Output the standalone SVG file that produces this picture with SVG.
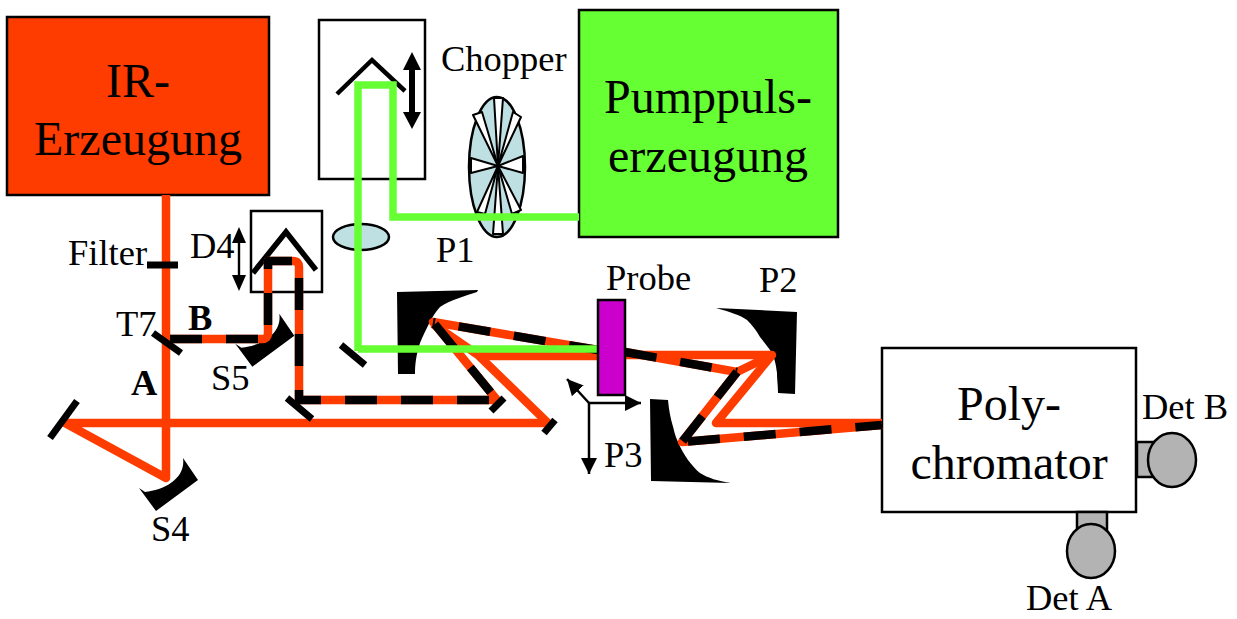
<svg xmlns="http://www.w3.org/2000/svg" width="1237" height="619" viewBox="0 0 1237 619">
<defs>
<style>
text{font-family:"Liberation Serif","Times New Roman",serif;fill:#000}
.big{font-size:48px;text-anchor:middle}
.lab{font-size:36.5px}
.det-l{font-size:36.5px}
.bold{font-weight:bold}
.box{stroke:#000;stroke-width:2.5}
.red{fill:none;stroke:#ff3c00;stroke-width:8.5;stroke-linejoin:round}
.blk{fill:none;stroke:#000;stroke-width:8.5;stroke-dasharray:32 24;stroke-linejoin:round}
.grn{fill:none;stroke:#66ff33;stroke-width:7.5;stroke-linejoin:miter}
.tick{stroke:#000;stroke-width:7;fill:none}
.retro{fill:none;stroke:#000;stroke-linejoin:miter}
.thin{stroke:#000;stroke-width:2.5;fill:none}
.mir{fill:#000}
.det{fill:#b3b3b3;stroke:#000;stroke-width:2.5}
.sec{fill:#fff;stroke:#000;stroke-width:2;stroke-linejoin:round}
</style>
<marker id="ah" viewBox="0 0 16 16" refX="16" refY="8" markerWidth="16" markerHeight="16" markerUnits="userSpaceOnUse" orient="auto"><path d="M0 0L16 8L0 16Z" fill="#000"/></marker>
<path id="smir" d="M139 488L145 492C165 490 186 478 183 458L198 480L156 511Z"/>
</defs>
<rect width="1237" height="619" fill="#fff"/>

<g id="ir-source"><rect class="box" x="7" y="17" width="262" height="178" fill="#ff3c00"/>
<text class="big" x="138" y="97">IR-</text><text class="big" x="138" y="155">Erzeugung</text></g>
<g id="pump-source"><rect class="box" x="579" y="10" width="259" height="227" fill="#66ff33"/>
<text class="big" x="708" y="113">Pumppuls-</text><text class="big" x="708" y="172">erzeugung</text></g>
<g id="polychromator"><rect class="box" x="882" y="348" width="254" height="164" fill="#fff"/>
<text class="big" x="1009" y="420">Poly-</text><text class="big" x="1009" y="479">chromator</text></g>
<g id="det-b"><rect class="det" x="1137" y="442" width="26" height="35"/><ellipse class="det" cx="1172" cy="460" rx="24" ry="27"/><text class="det-l" x="1142" y="419">Det B</text></g>
<g id="det-a"><rect class="det" x="1077" y="512" width="30" height="26"/><ellipse class="det" cx="1091" cy="551" rx="24" ry="27"/><text class="det-l" x="1026" y="610">Det A</text></g>

<g id="delay-pump"><rect class="box" x="319" y="20" width="106" height="159" fill="#fff"/>
<path class="retro" stroke-width="4.5" d="M337 94L372 60L405 91"/>
<path d="M412 52L421 70H415V112H421L412 129L403 112H409V70H403Z" fill="#000"/></g>
<g id="delay-d4"><rect class="box" x="251" y="211" width="71" height="81" fill="#fff"/>
<path class="retro" stroke-width="5.5" d="M253 273L286 232L316 270"/>
<path d="M239 227L246 243H240.2V275H246L239 291L232 275H237.8V243H232Z" fill="#000"/><text class="lab" x="190" y="258">D4</text></g>
<g id="chopper"><ellipse cx="497" cy="167" rx="28" ry="70" fill="#bfe0e3" stroke="#000" stroke-width="2.5"/>
<path class="sec" d="M494 98H503L498 166Z"/><path class="sec" d="M473 115L482 112L498 166Z"/><path class="sec" d="M521 117L513 112L498 166Z"/>
<path class="sec" d="M471 158V173L498 166Z"/><path class="sec" d="M523 156V173L498 166Z"/>
<path class="sec" d="M493 234H503L498 166Z"/><path class="sec" d="M477 212L485 214L498 166Z"/><path class="sec" d="M521 210L512 214L498 166Z"/>
<text class="lab" x="441" y="71">Chopper</text></g>
<g id="lens"><ellipse cx="361" cy="237" rx="28" ry="13" fill="#bfe0e3" stroke="#000" stroke-width="2.5"/></g>
<g id="filter"><text class="lab" x="68" y="265">Filter</text></g>
<g id="s4"><use href="#smir" class="mir"/><text class="lab" x="151" y="541">S4</text></g>
<g id="s5"><use href="#smir" class="mir" x="96.3" y="-144.3"/><text class="lab" x="211" y="390">S5</text></g>
<g id="p1"><path class="mir" d="M397 292L478 290L477 292C465 296 450 300 440 307C432 315 425 332 420 343C416 355 415 365 415 374L398 374Z"/><text class="lab" x="436" y="262">P1</text></g>
<g id="p2"><path class="mir" d="M716 308L797 312L795 394L778 393C778 385 777 380 777 373C776 365 775 360 772 353C768 347 764 342 760 337C756 330 752 325 747 320C740 315 730 312 716 308Z"/><text class="lab" x="759" y="292">P2</text></g>
<g id="p3"><path class="mir" d="M650 399L668 400C669 410 670 415 672 423C674 430 675 436 678 442C681 449 684 454 688 460C692 465 696 470 700 473C708 478 718 481 731 483L651 481Z"/><text class="lab" x="604" y="467">P3</text></g>
<g id="labels"><text class="lab" x="116" y="336">T7</text><text class="lab bold" x="188" y="330">B</text><text class="lab bold" x="131" y="395">A</text></g>

<g id="connectors">
<path class="red" d="M166 195V478L65 423H548L478 355L433 324"/>
<path class="red" d="M478 356H598"/>
<path class="red" d="M170 339H262Q268 339 268 333V261H293Q299 261 299 267V400H497L433 322L598 350"/>
<path class="blk" d="M170 339H268V261H299V400H497"/>
<path class="blk" stroke-dashoffset="46" d="M497 400L433 322"/>
<path class="blk" stroke-dashoffset="30" d="M433 322L598 350"/>
<path class="grn" d="M358 351V85H393V217H579"/>
<path class="grn" d="M358 349H598"/>
<path class="red" d="M625 355H772L716 423H882"/>
<path class="red" d="M625 352L737 372L772 355"/>
<path class="red" d="M737 372L682 442L882 425"/>
<path class="blk" d="M625 352L737 372"/>
<path class="blk" d="M737 372L682 442"/>
<path class="blk" stroke-dashoffset="50" d="M682 442L882 425"/>
<path class="tick" d="M147 265H178"/>
<path class="tick" stroke-width="5" d="M153 333L181 353"/>
<path class="tick" d="M77 401L50 438"/>
<path class="tick" d="M287 398L312 419"/>
<path class="tick" d="M341 345L365 365"/>
<path class="tick" d="M504 398L491 411"/>
<path class="tick" d="M555 420L544 433"/>
<path class="thin" marker-end="url(#ah)" d="M589 403H641"/>
<path class="thin" marker-end="url(#ah)" d="M589 403L567 379"/>
<path class="thin" marker-end="url(#ah)" d="M589 403V474"/>
</g>
<g id="probe"><rect class="box" x="598" y="300" width="27" height="95" fill="#cc00cc"/><text class="lab" x="606" y="290">Probe</text></g>
</svg>
